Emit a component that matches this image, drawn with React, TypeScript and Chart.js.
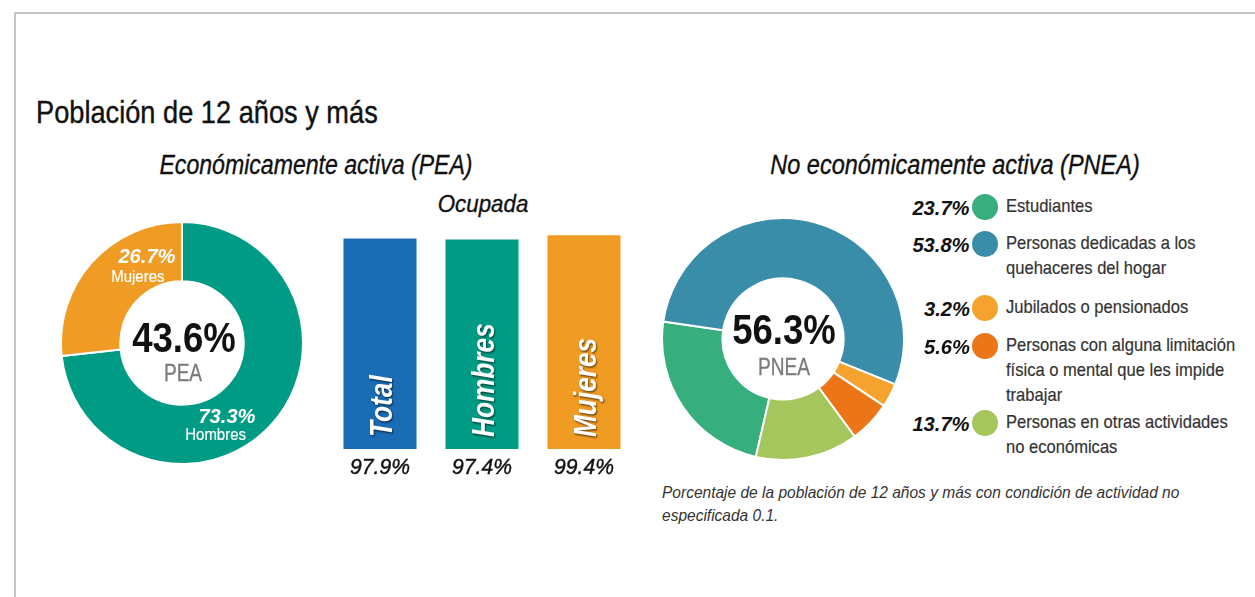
import React, { useEffect, useRef } from "react";
import { Chart, registerables } from "chart.js";

Chart.register(...registerables);

const FONT = "'Liberation Sans', Arial, Helvetica, sans-serif";

// ---- Data ----
const peaTotal = 43.6;
const pneaTotal = 56.3;

const peaLabels = ["Hombres", "Mujeres"];
const peaValues = [73.3, 26.7];
const peaColors = ["#009b85", "#f09b23"];

const ocupadaLabels = ["Total", "Hombres", "Mujeres"];
const ocupadaValues = [97.9, 97.4, 99.4];
const ocupadaColors = ["#1a6cb4", "#009b85", "#f09b23"];

const pneaLabels = [
  ["Estudiantes"],
  ["Personas dedicadas a los", "quehaceres del hogar"],
  ["Jubilados o pensionados"],
  ["Personas con alguna limitación", "física o mental que les impide", "trabajar"],
  ["Personas en otras actividades", "no económicas"],
];
const pneaValues = [23.7, 53.8, 3.2, 5.6, 13.7];
const pneaColors = ["#37ae7e", "#3a8da8", "#f5a22f", "#ec7518", "#a5c65d"];

const fmt = (v: number) => v.toFixed(1) + "%";

type TProps = {
  x: number;
  y: number;
  size: number;
  sx?: number;
  weight?: number | string;
  italic?: boolean;
  color?: string;
  stroke?: number;
  align?: "left" | "center" | "right";
  children: React.ReactNode;
};

function T({ x, y, size, sx = 0.86, weight = 400, italic = false, color = "#111", stroke = 0, align = "left", children }: TProps) {
  const style: React.CSSProperties = {
    position: "absolute",
    top: y,
    fontFamily: FONT,
    fontSize: size,
    fontWeight: weight as any,
    fontStyle: italic ? "italic" : "normal",
    color,
    lineHeight: 1,
    whiteSpace: "nowrap",
  };
  if (stroke > 0) (style as any).WebkitTextStroke = `${stroke}px ${color}`;
  if (align === "left") {
    style.left = x;
    style.transformOrigin = "left center";
    style.transform = `translateY(-50%) scaleX(${sx})`;
  } else if (align === "center") {
    style.left = x;
    style.transformOrigin = "center center";
    style.transform = `translate(-50%, -50%) scaleX(${sx})`;
  } else {
    style.right = 1255 - x;
    style.transformOrigin = "right center";
    style.transform = `translateY(-50%) scaleX(${sx})`;
  }
  return <div style={style}>{children}</div>;
}

function Doughnut({
  cx,
  cy,
  r,
  labels,
  values,
  colors,
  rotation,
  cutout,
}: {
  cx: number;
  cy: number;
  r: number;
  labels: string[];
  values: number[];
  colors: string[];
  rotation: number;
  cutout: string;
}) {
  const ref = useRef<HTMLCanvasElement>(null);
  useEffect(() => {
    if (!ref.current) return;
    const chart = new Chart(ref.current, {
      type: "doughnut",
      data: {
        labels,
        datasets: [
          {
            data: values,
            backgroundColor: colors,
            borderColor: "#ffffff",
            borderWidth: 2,
          },
        ],
      },
      options: {
        responsive: false,
        animation: false,
        rotation,
        cutout,
        layout: { padding: 0 },
        plugins: { legend: { display: false }, tooltip: { enabled: false } },
      },
    });
    return () => chart.destroy();
  }, []);
  const size = 2 * r + 2;
  return (
    <canvas
      ref={ref}
      width={size}
      height={size}
      style={{ position: "absolute", left: cx - size / 2, top: cy - size / 2, width: size, height: size }}
    />
  );
}

function Bars() {
  const ref = useRef<HTMLCanvasElement>(null);
  useEffect(() => {
    if (!ref.current) return;
    const labelPlugin = {
      id: "barLabels",
      afterDatasetsDraw(chart: any) {
        const ctx = chart.ctx;
        const meta = chart.getDatasetMeta(0);
        meta.data.forEach((bar: any, i: number) => {
          // vertical label inside bar
          ctx.save();
          ctx.translate(bar.x + 1, bar.base - 12);
          ctx.rotate(-Math.PI / 2);
          ctx.scale(0.82, 1);
          ctx.font = `italic bold 32px ${FONT}`;
          ctx.fillStyle = "#ffffff";
          ctx.textAlign = "left";
          ctx.textBaseline = "middle";
          ctx.shadowColor = "rgba(0,0,0,0.55)";
          ctx.shadowOffsetX = 1.5;
          ctx.shadowOffsetY = 1.5;
          ctx.shadowBlur = 2;
          ctx.fillText(ocupadaLabels[i], 0, 2);
          ctx.restore();
          // value below bar
          ctx.save();
          ctx.translate(bar.x, bar.base + 19);
          ctx.scale(0.96, 1);
          ctx.font = `italic 22px ${FONT}`;
          ctx.fillStyle = "#111";
          ctx.strokeStyle = "#111";
          ctx.lineWidth = 0.4;
          ctx.textAlign = "center";
          ctx.textBaseline = "middle";
          ctx.fillText(fmt(ocupadaValues[i]), 0, 0);
          ctx.strokeText(fmt(ocupadaValues[i]), 0, 0);
          ctx.restore();
        });
      },
    };
    const chart = new Chart(ref.current, {
      type: "bar",
      data: {
        labels: ocupadaLabels,
        datasets: [
          {
            data: ocupadaValues,
            backgroundColor: ocupadaColors,
            borderWidth: 0,
            barPercentage: 0.716,
            categoryPercentage: 1,
          },
        ],
      },
      options: {
        responsive: false,
        animation: false,
        layout: { padding: { top: 9, bottom: 41, left: 0, right: 0 } },
        scales: {
          x: { display: false },
          y: { display: false, min: 0, max: 100 },
        },
        plugins: { legend: { display: false }, tooltip: { enabled: false } },
      },
      plugins: [labelPlugin],
    });
    return () => chart.destroy();
  }, []);
  return (
    <canvas
      ref={ref}
      width={306}
      height={265}
      style={{ position: "absolute", left: 329, top: 225, width: 306, height: 265 }}
    />
  );
}

const legendRows = [207, 244, 308, 346, 423];

export default function App() {
  return (
    <div
      style={{
        position: "absolute",
        left: 0,
        top: 0,
        width: 1255,
        height: 597,
        background: "#fff",
        overflow: "hidden",
        fontFamily: FONT,
      }}
    >
      <div
        style={{
          position: "absolute",
          left: 14,
          top: 12,
          width: 1255,
          height: 600,
          borderTop: "2px solid #c3c7cb",
          borderLeft: "2px solid #c3c7cb",
        }}
      />
      <T x={36} y={112} size={32} sx={0.85} stroke={0.4}>Población de 12 años y más</T>
      <T x={316} y={165} size={27} sx={0.855} stroke={0.35} italic align="center">Económicamente activa (PEA)</T>
      <T x={955} y={165} size={27} sx={0.87} stroke={0.35} italic align="center">No económicamente activa (PNEA)</T>
      <T x={483} y={204} size={24} sx={0.93} stroke={0.35} italic align="center">Ocupada</T>

      <Doughnut cx={182} cy={343} r={121} labels={peaLabels} values={peaValues} colors={peaColors} rotation={0} cutout="51%" />
      <T x={184} y={338} size={42} sx={0.87} weight={700} align="center">{fmt(peaTotal)}</T>
      <T x={183} y={373} size={23} sx={0.83} stroke={0.3} color="#7a7a7a" align="center">PEA</T>
      <T x={176} y={255} size={21} sx={0.96} weight={700} italic color="#fff" align="right">{fmt(peaValues[1])}</T>
      <T x={164} y={276} size={17} sx={0.88} stroke={0.2} color="#fff" align="right">{peaLabels[1]}</T>
      <T x={256} y={415} size={21} sx={0.96} weight={700} italic color="#fff" align="right">{fmt(peaValues[0])}</T>
      <T x={246} y={434} size={17} sx={0.88} stroke={0.2} color="#fff" align="right">{peaLabels[0]}</T>

      <Bars />

      <Doughnut cx={783} cy={339} r={121} labels={pneaLabels.map((l) => l.join(" "))} values={pneaValues} colors={pneaColors} rotation={193} cutout="50%" />
      <T x={784} y={330} size={42} sx={0.87} weight={700} align="center">{fmt(pneaTotal)}</T>
      <T x={784} y={367} size={23} sx={0.83} stroke={0.3} color="#7a7a7a" align="center">PNEA</T>

      {pneaLabels.map((lines, i) => (
        <React.Fragment key={i}>
          <T x={970} y={legendRows[i]} size={21} sx={0.96} italic weight={700} align="right">{fmt(pneaValues[i])}</T>
          <div
            style={{
              position: "absolute",
              left: 972,
              top: legendRows[i] - 13,
              width: 26,
              height: 26,
              borderRadius: 13,
              background: pneaColors[i],
            }}
          />
          {lines.map((ln, j) => (
            <T key={j} x={1006} y={legendRows[i] - 1 + j * 25} size={18.5} sx={0.895} stroke={0.2} color="#333">{ln}</T>
          ))}
        </React.Fragment>
      ))}

      <T x={662} y={492} size={16.5} sx={0.94} italic color="#333">Porcentaje de la población de 12 años y más con condición de actividad no</T>
      <T x={662} y={515} size={16.5} sx={0.94} italic color="#333">especificada 0.1.</T>
    </div>
  );
}
